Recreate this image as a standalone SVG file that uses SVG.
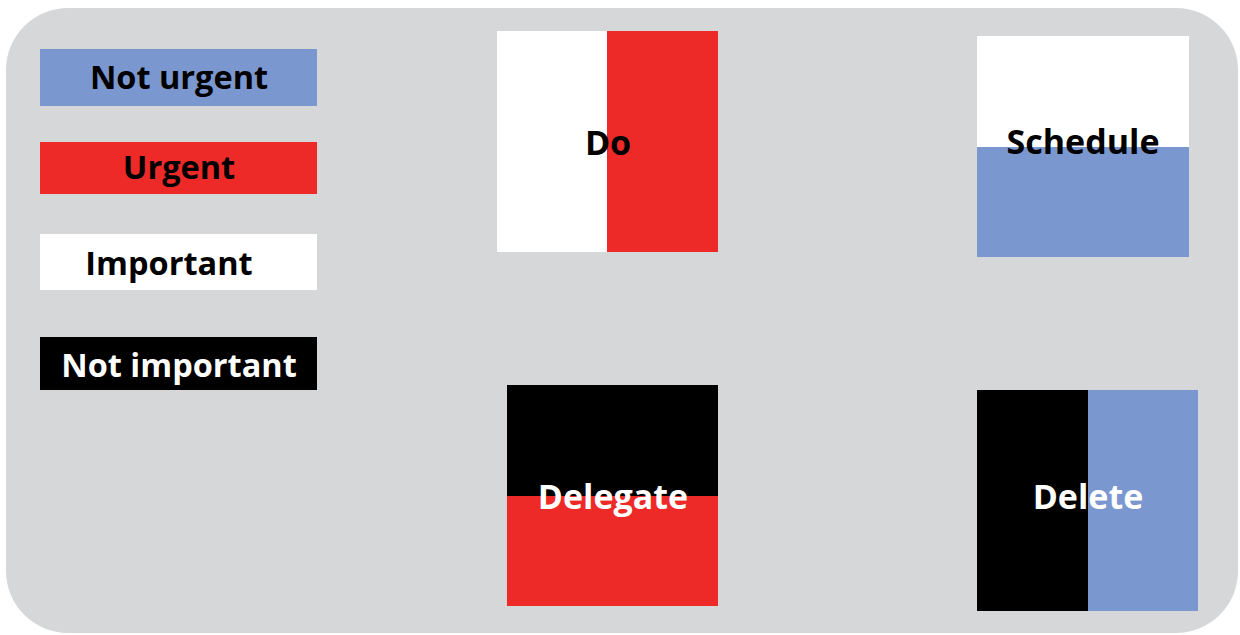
<svg xmlns="http://www.w3.org/2000/svg" width="1240" height="635" viewBox="0 0 1240 635">
<style>
.t{font-family:"Open Sans","Liberation Sans",sans-serif;font-weight:700;font-size:32.5px;text-anchor:middle}
.q{font-size:34px}
.dk{fill:#000}
.lt{fill:#fff}
.blue{fill:#7B97CF}
.red{fill:#EE2A29}
.white{fill:#fff}
.black{fill:#000}
</style>
<rect width="1240" height="635" fill="#fff"/>
<rect x="6" y="8" width="1232" height="625" rx="62" ry="62" fill="#D6D7D9"/>
<g id="legend-not-urgent"><rect class="blue" x="40" y="49" width="277" height="57"/><text class="t dk" x="179" y="89">Not urgent</text></g>
<g id="legend-urgent"><rect class="red" x="40" y="142" width="277" height="52"/><text class="t dk" x="179" y="179">Urgent</text></g>
<g id="legend-important"><rect class="white" x="40" y="234" width="277" height="56"/><text class="t dk" x="169" y="275">Important</text></g>
<g id="legend-not-important"><rect class="black" x="40" y="337" width="277" height="53"/><text class="t lt" x="179" y="377">Not important</text></g>
<g id="do"><rect class="white" x="497" y="31" width="111" height="221"/><rect class="red" x="607" y="31" width="111" height="221"/><text class="t q dk" x="608" y="155">Do</text></g>
<g id="schedule"><rect class="white" x="977" y="36" width="212" height="111"/><rect class="blue" x="977" y="147" width="212" height="110"/><text class="t q dk" x="1083" y="154">Schedule</text></g>
<g id="delegate"><rect class="black" x="507" y="385" width="211" height="111"/><rect class="red" x="507" y="496" width="211" height="110"/><text class="t q lt" x="613" y="509">Delegate</text></g>
<g id="delete"><rect class="black" x="977" y="390" width="111" height="221"/><rect class="blue" x="1088" y="390" width="110" height="221"/><text class="t q lt" x="1088" y="509">Delete</text></g>
<g id="connectors"/>
</svg>
